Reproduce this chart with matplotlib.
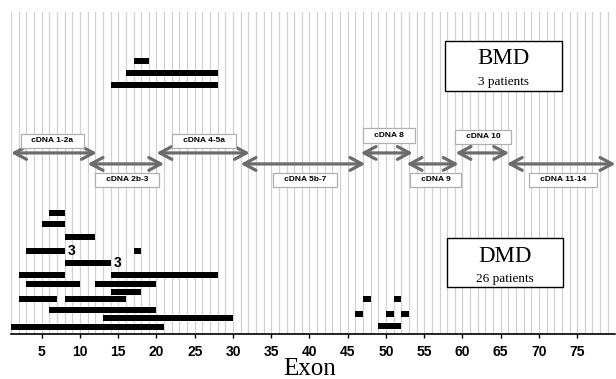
import matplotlib
matplotlib.use("Agg")
import matplotlib.pyplot as plt
from matplotlib.patches import FancyArrowPatch, Rectangle

# DMD deletions (start exon, end exon, row level)
dmd_start = [6, 5, 8, 3, 17, 8, 2, 14, 3, 12, 14, 2, 8, 6, 13, 1,
             47, 51, 46, 50, 52, 49]
dmd_end = [8, 8, 12, 8, 18, 14, 8, 28, 10, 20, 18, 7, 16, 20, 30, 21,
           48, 52, 47, 51, 53, 52]
dmd_row = [121, 110, 97, 83, 83, 71, 59, 59, 50, 50, 42, 35, 35, 24, 16, 7,
           35, 35, 20, 20, 20, 8]

# BMD deletions
bmd_start = [17, 16, 14]
bmd_end = [19, 28, 28]
bmd_row = [273, 261, 249]

# "3" annotations (exon, level)
count_labels = ["3", "3"]
count_x = [8.4, 14.4]
count_y = [83, 71]

# cDNA fragments
cdna_names = ["cDNA 1-2a", "cDNA 2b-3", "cDNA 4-5a", "cDNA 5b-7",
              "cDNA 8", "cDNA 9", "cDNA 10", "cDNA 11-14"]
cdna_start = [1, 11, 20, 31, 46.7, 52.7, 59.1, 65.8]
cdna_end = [12.2, 21, 32.2, 47.3, 53.5, 59.5, 66.1, 80]
cdna_row = [181, 170, 181, 170, 181, 170, 181, 170]
label_x = [6.4, 16.2, 26.2, 39.4, 50.4, 56.5, 62.7, 73.2]
label_y = [193, 154, 193, 154, 198.5, 154, 197, 154]

xticks = list(range(5, 80, 5))

fig = plt.figure(figsize=(6.16, 3.79), dpi=100)
ax = fig.add_axes([0.0181, 0.1187, 0.981, 0.850])
ax.set_xlim(1, 80)
ax.set_ylim(0, 322)

ax.set_xticks(range(1, 81), minor=True)
ax.set_xticks(xticks)
ax.set_xticklabels([str(t) for t in xticks], fontfamily="Liberation Sans",
                   fontweight="bold", fontsize=10)
ax.tick_params(axis="x", which="major", length=3, width=1, pad=5)
ax.tick_params(axis="x", which="minor", length=0)
ax.set_yticks([])
ax.grid(True, which="both", axis="x", color="#d2d2d2", lw=0.9)
ax.set_axisbelow(True)
for s in ["top", "left", "right"]:
    ax.spines[s].set_visible(False)
ax.spines["bottom"].set_linewidth(1.2)

bar_h = 5.5
ax.barh(dmd_row, [e - s for s, e in zip(dmd_start, dmd_end)], left=dmd_start,
        height=bar_h, color="black")
ax.barh(bmd_row, [e - s for s, e in zip(bmd_start, bmd_end)], left=bmd_start,
        height=bar_h, color="black")

for t, x, y in zip(count_labels, count_x, count_y):
    ax.text(x, y, t, fontfamily="Liberation Sans", fontweight="bold",
            fontsize=10, ha="left", va="center")

for name, s, e, r, lx, ly in zip(cdna_names, cdna_start, cdna_end, cdna_row,
                                 label_x, label_y):
    arr = FancyArrowPatch((s, r), (e, r),
                          arrowstyle="<->,head_length=0.43,head_width=0.23",
                          mutation_scale=20, color="#6c6c6c", lw=2.3,
                          shrinkA=0, shrinkB=0, clip_on=False)
    ax.add_patch(arr)
    ax.text(lx, ly, "   " + name + "   ", fontfamily="Liberation Sans",
            fontweight="bold", fontsize=6, ha="center", va="center",
            bbox=dict(boxstyle="square,pad=0.45", fc="white", ec="#b0b0b0",
                      lw=0.9))

# group boxes
ax.add_patch(Rectangle((57.7, 243), 15.3, 50, fc="white", ec="black", lw=1))
ax.text(65.3, 275, "BMD", fontfamily="Liberation Serif", fontsize=16.5,
        ha="center", va="center")
ax.text(65.3, 252, "3 patients", fontfamily="Liberation Serif", fontsize=9.5,
        ha="center", va="center")
ax.add_patch(Rectangle((58.0, 47), 15.2, 49, fc="white", ec="black", lw=1))
ax.text(65.5, 77, "DMD", fontfamily="Liberation Serif", fontsize=16.5,
        ha="center", va="center")
ax.text(65.5, 55, "26 patients", fontfamily="Liberation Serif", fontsize=9.5,
        ha="center", va="center")

fig.text(310 / 616, 1 - 375 / 379, "Exon", fontfamily="Liberation Serif",
         fontsize=18, ha="center", va="baseline")

fig.savefig("out.png", dpi=100)
